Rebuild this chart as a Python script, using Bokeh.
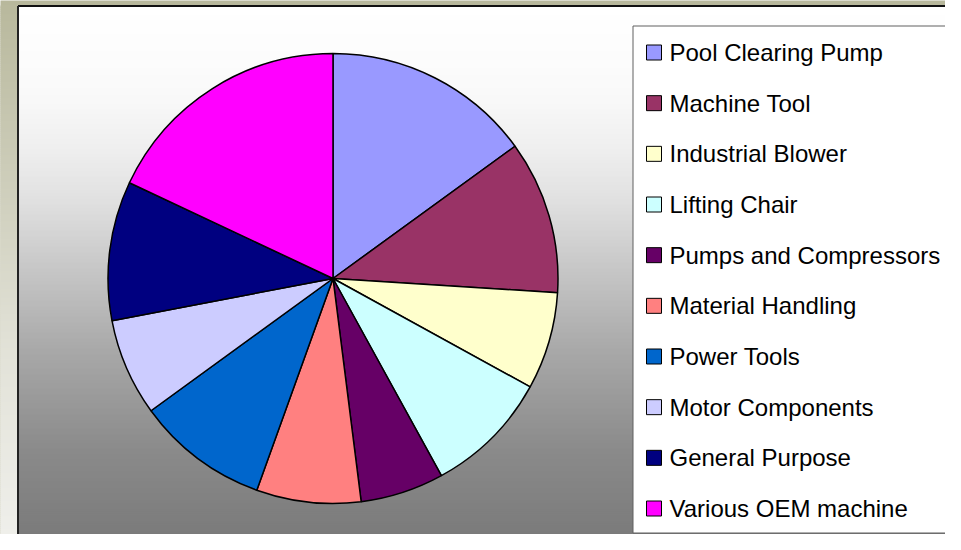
import numpy as np
from bokeh.plotting import figure
from bokeh.models import Range1d, ColumnDataSource
from bokeh.core.properties import value
from bokeh.embed import file_html
from bokeh.resources import INLINE

# ---- data ----
categories = ["Pool Clearing Pump", "Machine Tool", "Industrial Blower", "Lifting Chair",
              "Pumps and Compressors", "Material Handling", "Power Tools",
              "Motor Components", "General Purpose", "Various OEM machine"]
shares = [15, 11, 7, 9, 6, 7.5, 9.5, 7, 10, 18]
colors = ["#9999FF", "#993366", "#FFFFCC", "#CCFFFF", "#660066",
          "#FF8080", "#0066CC", "#CCCCFF", "#000080", "#FF00FF"]

# ---- figure in reference-pixel coordinates ----
W, H = 945, 534
p = figure(width=W, height=H, x_range=Range1d(0, W), y_range=Range1d(-H, 0),
           output_backend="svg", toolbar_location=None, min_border=0)
p.axis.visible = False
p.grid.visible = False
p.outline_line_color = None
p.background_fill_color = "#B8B89C"
p.border_fill_color = "#B8B89C"

def interp_color(y, anchors):
    ys = [a[0] for a in anchors]
    out = []
    for c in range(3):
        out.append(int(round(np.interp(y, ys, [a[1][c] for a in anchors]))))
    return "#%02x%02x%02x" % tuple(out)

# left slide strip gradient
left_anchors = [(0, (184, 184, 156)), (200, (208, 208, 190)), (350, (226, 226, 216)), (550, (240, 240, 236))]
ys = np.arange(5, 551, 2)
p.quad(left=-5, right=18, top=-ys, bottom=-(ys + 2.5),
       fill_color=[interp_color(y, left_anchors) for y in ys], line_color=None)

# chart area gradient
bg_anchors = [(5, (255,) * 3), (60, (252,) * 3), (100, (248,) * 3), (150, (238,) * 3),
              (200, (224,) * 3), (275, (196,) * 3), (350, (168,) * 3), (450, (138,) * 3),
              (550, (120,) * 3)]
p.quad(left=18, right=1000, top=-ys, bottom=-(ys + 2.5),
       fill_color=[interp_color(y, bg_anchors) for y in ys], line_color=None)

# frame lines
p.line(x=[17.5, 1000], y=[-5.5, -5.5], line_color="#111111", line_width=2)
p.line(x=[17.5, 17.5], y=[-5.5, -560], line_color="#222222", line_width=2)

# ---- pie ----
vals = np.array(shares, dtype=float)
frac = vals / vals.sum() * 360.0
cum_end = np.cumsum(frac)
cum_start = cum_end - frac
src = ColumnDataSource(dict(
    cat=categories, color=colors,
    start=90.0 - cum_end, end=90.0 - cum_start,
))
p.wedge(x=332.5, y=-278, radius=225, start_angle="start", end_angle="end",
        start_angle_units="deg", end_angle_units="deg",
        fill_color="color", line_color="black", line_width=1.5, source=src)

# ---- legend ----
p.quad(left=632.5, right=1000, top=-25.5, bottom=-532.5, fill_color="white",
       line_color="#606060", line_width=1)
ly = 52 + np.arange(len(categories)) * (508 - 52) / (len(categories) - 1)
p.rect(x=653.5, y=-ly, width=15, height=15, fill_color=colors, line_color="black", line_width=1)
p.text(x=669, y=-ly, text=categories, text_baseline="middle", text_align="left",
       text_font=value("Liberation Sans"), text_font_size="24px", text_color="black")

open("out.html", "w").write(file_html(p, INLINE))
